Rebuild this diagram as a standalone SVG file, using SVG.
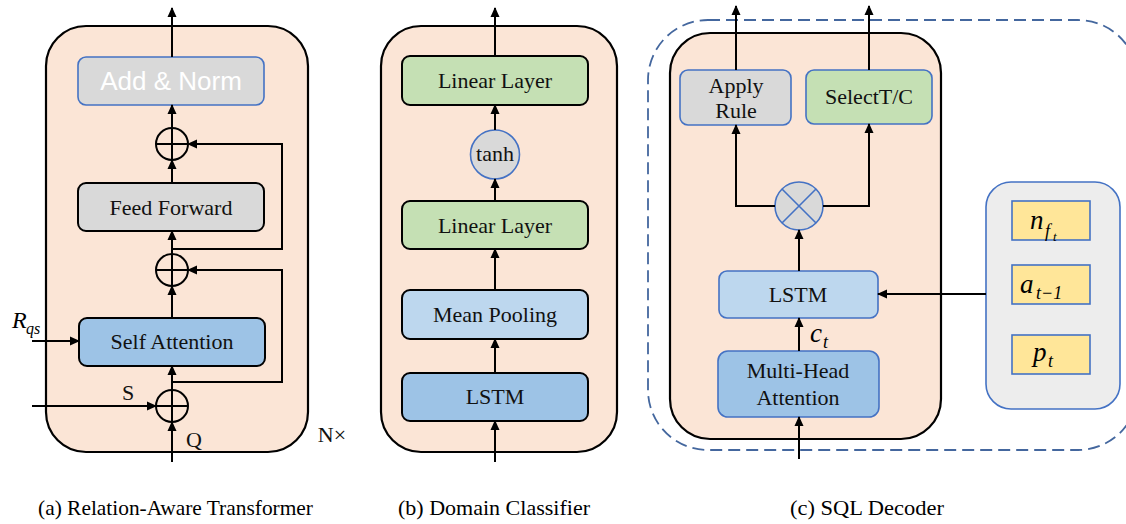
<svg xmlns="http://www.w3.org/2000/svg" width="1126" height="524" viewBox="0 0 1126 524">
<style>
.panel{fill:#fbe5d6;stroke:#000;stroke-width:2.2}
.box{stroke:#000;stroke-width:2}
.bbox{stroke:#4472c4;stroke-width:1.6}
.gray{fill:#d9d9d9}
.green{fill:#c5e0b4}
.lblue{fill:#bdd7ee}
.mblue{fill:#9dc3e6}
.yel{fill:#ffe699;stroke:#4472c4;stroke-width:1.6}
.t{font-family:"Liberation Serif","Times New Roman",serif;font-size:22px;fill:#111;text-anchor:middle}
.m{font-family:"Liberation Serif","DejaVu Serif",serif;font-style:italic;fill:#000}
.cap{font-family:"Liberation Serif","Times New Roman",serif;font-size:22px;fill:#000}
.ln{fill:none;stroke:#000;stroke-width:2}
.arr{fill:none;stroke:#000;stroke-width:2;marker-end:url(#ah)}
</style>
<defs>
<marker id="ah" markerUnits="userSpaceOnUse" markerWidth="10" markerHeight="10" refX="9" refY="5" orient="auto">
<path d="M0,0.5 L10,5 L0,9.5 z" fill="#000"/>
</marker>
</defs>

<!-- Panel (a) -->
<g id="panel-a">
<rect class="panel" x="46" y="26" width="262" height="426" rx="40"/>
</g>
<g id="add-norm">
<rect class="gray bbox" x="78" y="57" width="186" height="48" rx="8"/>
<text x="171" y="90" font-family="Liberation Sans, Arial, sans-serif" font-size="26" fill="#fff" text-anchor="middle">Add &amp; Norm</text>
</g>
<g id="plus1">
<circle cx="172" cy="144" r="16" fill="none" stroke="#000" stroke-width="2"/>
<path class="ln" d="M156,144 H188 M172,128 V160"/>
</g>
<g id="feed-forward">
<rect class="gray box" x="78" y="183" width="186" height="48" rx="8"/>
<text class="t" x="171" y="215">Feed Forward</text>
</g>
<g id="plus2">
<circle cx="172" cy="270" r="16" fill="none" stroke="#000" stroke-width="2"/>
<path class="ln" d="M156,270 H188 M172,254 V286"/>
</g>
<g id="self-attention">
<rect class="mblue box" x="79" y="318" width="186" height="48" rx="8"/>
<text class="t" x="172" y="349">Self Attention</text>
</g>
<g id="plus3">
<circle cx="172" cy="406" r="16" fill="none" stroke="#000" stroke-width="2"/>
<path class="ln" d="M156,406 H188 M172,390 V422"/>
</g>
<g id="labels-a">
<text class="m" x="12" y="328" font-size="24">R</text>
<text class="m" x="26" y="334" font-size="16">qs</text>
<text class="t" x="128" y="400" font-size="21">S</text>
<text class="t" x="194" y="447" font-size="21">Q</text>
<text class="t" x="332" y="442" font-size="21">N×</text>
</g>

<!-- Panel (b) -->
<g id="panel-b">
<rect class="panel" x="381" y="26" width="236" height="426" rx="40"/>
</g>
<g id="linear1">
<rect class="green box" x="402" y="56" width="186" height="49" rx="8"/>
<text class="t" x="495" y="88">Linear Layer</text>
</g>
<g id="tanh">
<circle cx="495" cy="154.5" r="24.5" fill="#d9d9d9" stroke="#4472c4" stroke-width="1.6"/>
<text class="t" x="495" y="161" font-size="20">tanh</text>
</g>
<g id="linear2">
<rect class="green box" x="402" y="201" width="186" height="48" rx="8"/>
<text class="t" x="495" y="233">Linear Layer</text>
</g>
<g id="mean-pooling">
<rect class="lblue box" x="402" y="290" width="186" height="49" rx="8"/>
<text class="t" x="495" y="322">Mean Pooling</text>
</g>
<g id="lstm-b">
<rect class="mblue box" x="402" y="373" width="186" height="48" rx="8"/>
<text class="t" x="495" y="404">LSTM</text>
</g>

<!-- Panel (c) -->
<g id="panel-c">
<rect x="648" y="20" width="490" height="430" rx="60" fill="none" stroke="#44679e" stroke-width="1.8" stroke-dasharray="12 6"/>
<rect class="panel" x="670" y="33" width="271" height="406" rx="40"/>
</g>
<g id="apply-rule">
<rect class="gray bbox" x="680" y="70" width="111" height="55" rx="8"/>
<text class="t" x="736" y="93">Apply</text>
<text class="t" x="736" y="118">Rule</text>
</g>
<g id="select-tc">
<rect class="green bbox" x="806" y="70" width="126" height="54" rx="8"/>
<text class="t" x="869" y="104">SelectT/C</text>
</g>
<g id="otimes">
<circle cx="799" cy="206" r="24" fill="#d9d9d9" stroke="#4472c4" stroke-width="1.6"/>
<path d="M782,189 L816,223 M816,189 L782,223" stroke="#4472c4" stroke-width="1.6"/>
</g>
<g id="lstm-c">
<rect class="lblue bbox" x="719" y="271" width="159" height="47" rx="8"/>
<text class="t" x="798" y="302">LSTM</text>
</g>
<g id="mha">
<rect class="mblue bbox" x="718" y="351" width="161" height="66" rx="10"/>
<text class="t" x="798" y="378">Multi-Head</text>
<text class="t" x="798" y="405">Attention</text>
</g>
<g id="inputs">
<rect x="986" y="182" width="134" height="227" rx="25" fill="#ededed" stroke="#4472c4" stroke-width="1.6"/>
</g>
<g id="n-ft">
<rect class="yel" x="1012" y="201" width="78" height="39"/>
<text class="m" x="1030" y="229" font-size="27">n</text>
<text class="m" x="1045" y="237" font-size="18">f</text>
<text class="m" x="1053" y="241" font-size="13">t</text>
</g>
<g id="a-t1">
<rect class="yel" x="1012" y="265" width="78" height="39"/>
<text class="m" x="1020" y="293" font-size="27">a</text>
<text class="m" x="1036" y="299" font-size="18">t−1</text>
</g>
<g id="p-t">
<rect class="yel" x="1012" y="335" width="78" height="39"/>
<text class="m" x="1033" y="361" font-size="27">p</text>
<text class="m" x="1048" y="367" font-size="18">t</text>
</g>
<g id="label-ct">
<text class="m" x="810" y="342" font-size="27">c</text>
<text class="m" x="823" y="348" font-size="18">t</text>
</g>

<!-- Connectors -->
<g id="connectors">
<path class="arr" d="M172,57 V8"/>
<path class="arr" d="M172,128 V105"/>
<path class="arr" d="M172,183 V160"/>
<path class="arr" d="M172,254 V231"/>
<path class="arr" d="M172,249 H282 V144 H188"/>
<path class="arr" d="M172,318 V286"/>
<path class="arr" d="M172,382 H282 V270 H188"/>
<path class="arr" d="M172,390 V366"/>
<path class="arr" d="M32,406 H156"/>
<path class="arr" d="M32,341 H79"/>
<path class="arr" d="M172,462 V422"/>

<path class="arr" d="M495,56 V8"/>
<path class="arr" d="M495,130 V105"/>
<path class="arr" d="M495,201 V179"/>
<path class="arr" d="M495,290 V249"/>
<path class="arr" d="M495,373 V339"/>
<path class="arr" d="M495,462 V421"/>

<path class="arr" d="M736,70 V6"/>
<path class="arr" d="M869,70 V6"/>
<path class="arr" d="M775,206 H736 V125"/>
<path class="arr" d="M823,206 H869 V124"/>
<path class="arr" d="M799,271 V230"/>
<path class="arr" d="M799,351 V318"/>
<path class="arr" d="M799,459 V417"/>
<path class="arr" d="M986,294 H878"/>
</g>

<g id="captions">
<text class="cap" x="38" y="515" textLength="275" lengthAdjust="spacingAndGlyphs">(a) Relation-Aware Transformer</text>
<text class="cap" x="398" y="515" textLength="192" lengthAdjust="spacingAndGlyphs">(b) Domain Classifier</text>
<text class="cap" x="790" y="515" textLength="154" lengthAdjust="spacingAndGlyphs">(c) SQL Decoder</text>
</g>
</svg>
